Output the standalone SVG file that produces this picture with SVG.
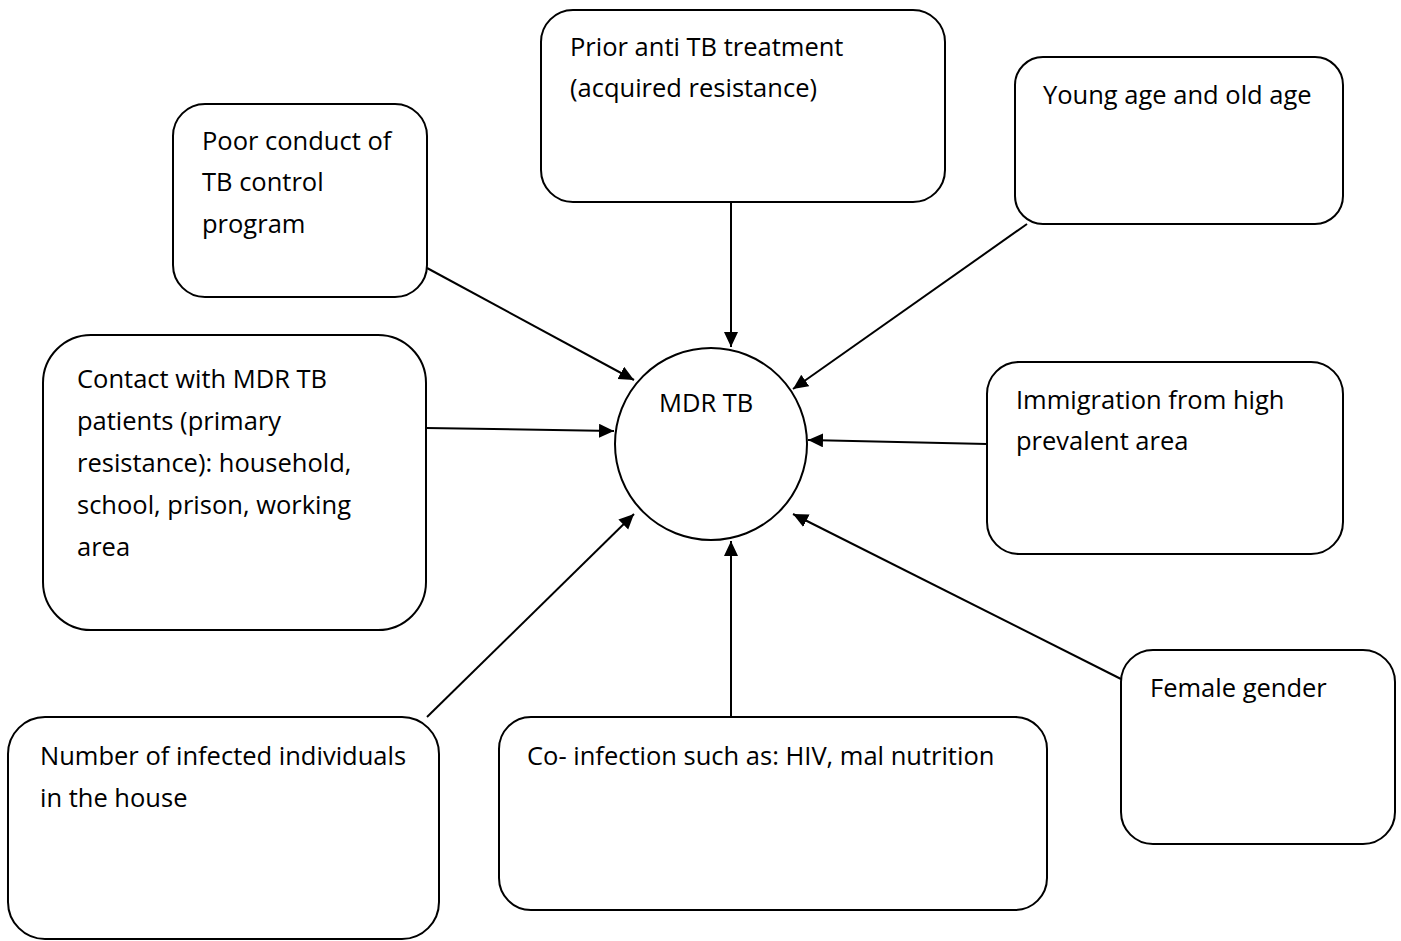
<svg xmlns="http://www.w3.org/2000/svg" width="1401" height="941" viewBox="0 0 1401 941">
<defs>
<style>
.box{fill:#fff;stroke:#000;stroke-width:2}
.t{font-family:"Open Sans","Noto Sans","Liberation Sans",sans-serif;font-size:25.5px;fill:#000}
.c line{stroke:#000;stroke-width:2}
</style>
<marker id="ah" markerUnits="userSpaceOnUse" markerWidth="16" markerHeight="15" refX="15" refY="7" orient="auto">
<path d="M0,0 L15,7 L0,14 z" fill="#000"/>
</marker>
</defs>
<rect width="1401" height="941" fill="#fff"/>
<g class="c" id="connectors">
<line x1="427" y1="268" x2="634" y2="380" marker-end="url(#ah)"/>
<line x1="731" y1="202" x2="731" y2="347" marker-end="url(#ah)"/>
<line x1="1027" y1="224" x2="793" y2="389" marker-end="url(#ah)"/>
<line x1="426" y1="428" x2="614" y2="431" marker-end="url(#ah)"/>
<line x1="987" y1="444" x2="808" y2="440" marker-end="url(#ah)"/>
<line x1="1121" y1="679" x2="793" y2="514" marker-end="url(#ah)"/>
<line x1="731" y1="717" x2="731" y2="541" marker-end="url(#ah)"/>
<line x1="427" y1="717" x2="634" y2="514" marker-end="url(#ah)"/>
</g>
<g id="mdr">
<circle class="box" cx="711" cy="444" r="96"/>
<text class="t" x="659" y="412">MDR TB</text>
</g>
<g id="poor">
<rect class="box" x="173" y="104" width="254" height="193" rx="32"/>
<text class="t" x="202" y="150">Poor conduct of</text>
<text class="t" x="202" y="191">TB control</text>
<text class="t" x="202" y="233">program</text>
</g>
<g id="prior">
<rect class="box" x="541" y="10" width="404" height="192" rx="32"/>
<text class="t" x="570" y="56">Prior anti TB treatment</text>
<text class="t" x="570" y="97">(acquired resistance)</text>
</g>
<g id="young">
<rect class="box" x="1015" y="57" width="328" height="167" rx="28"/>
<text class="t" x="1043" y="104">Young age and old age</text>
</g>
<g id="contact">
<rect class="box" x="43" y="335" width="383" height="295" rx="48"/>
<text class="t" x="77" y="388">Contact with MDR TB</text>
<text class="t" x="77" y="430">patients (primary</text>
<text class="t" x="77" y="472">resistance): household,</text>
<text class="t" x="77" y="514">school, prison, working</text>
<text class="t" x="77" y="556">area</text>
</g>
<g id="immigration">
<rect class="box" x="987" y="362" width="356" height="192" rx="32"/>
<text class="t" x="1016" y="409">Immigration from high</text>
<text class="t" x="1016" y="450">prevalent area</text>
</g>
<g id="number">
<rect class="box" x="8" y="717" width="431" height="222" rx="37"/>
<text class="t" x="40" y="765">Number of infected individuals</text>
<text class="t" x="40" y="807">in the house</text>
</g>
<g id="coinfection">
<rect class="box" x="499" y="717" width="548" height="193" rx="32"/>
<text class="t" x="527" y="765">Co- infection such as: HIV, mal nutrition</text>
</g>
<g id="female">
<rect class="box" x="1121" y="650" width="274" height="194" rx="32"/>
<text class="t" x="1150" y="697">Female gender</text>
</g>
</svg>
